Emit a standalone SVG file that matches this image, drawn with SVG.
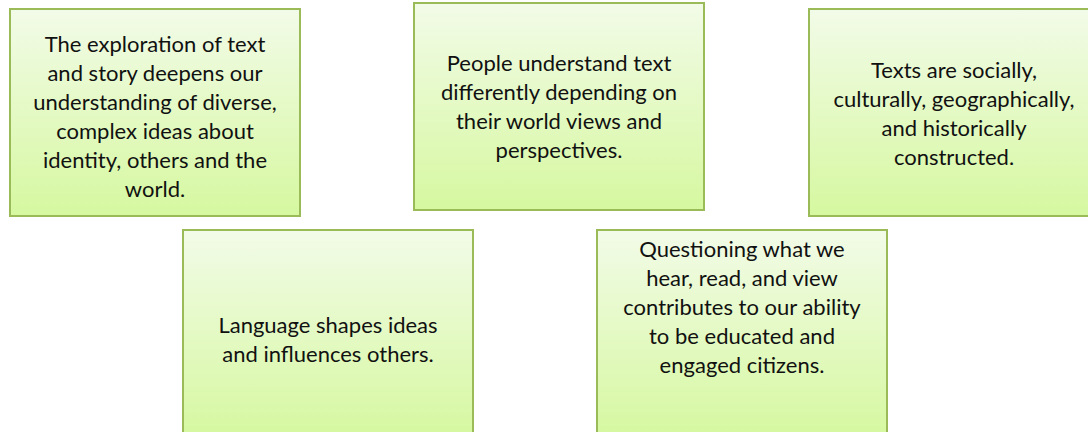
<svg xmlns="http://www.w3.org/2000/svg" width="1088" height="432" viewBox="0 0 1088 432">
<defs>
<linearGradient id="g" x1="0" y1="0" x2="0" y2="1">
<stop offset="0" stop-color="#F2FBE8"/>
<stop offset="1" stop-color="#D6F8A0"/>
</linearGradient>
<style>
.box{fill:url(#g);stroke:#9BBB59;stroke-width:2}
.t{font-family:Lato,"Liberation Sans",sans-serif;font-size:22px;fill:#111;text-anchor:middle}
</style>
</defs>
<rect width="1088" height="432" fill="#fff"/>
<g id="connectors"/>
<g id="n1">
<rect class="box" x="10" y="9" width="290" height="207"/>
<text class="t"><tspan x="155" y="52">The exploration of text</tspan><tspan x="155" y="81">and story deepens our</tspan><tspan x="155" y="110">understanding of diverse,</tspan><tspan x="155" y="139">complex ideas about</tspan><tspan x="155" y="168">identity, others and the</tspan><tspan x="155" y="197">world.</tspan></text>
</g>
<g id="n2">
<rect class="box" x="414" y="3" width="290" height="207"/>
<text class="t"><tspan x="559" y="71">People understand text</tspan><tspan x="559" y="100">differently depending on</tspan><tspan x="559" y="129">their world views and</tspan><tspan x="559" y="158">perspectives.</tspan></text>
</g>
<g id="n3">
<rect class="box" x="809" y="9" width="290" height="207"/>
<text class="t"><tspan x="954" y="78">Texts are socially,</tspan><tspan x="954" y="107">culturally, geographically,</tspan><tspan x="954" y="136">and historically</tspan><tspan x="954" y="165">constructed.</tspan></text>
</g>
<g id="n4">
<rect class="box" x="183" y="230" width="290" height="207"/>
<text class="t"><tspan x="328" y="333">Language shapes ideas</tspan><tspan x="328" y="362">and influences others.</tspan></text>
</g>
<g id="n5">
<rect class="box" x="597" y="230" width="290" height="207"/>
<text class="t"><tspan x="742" y="257">Questioning what we</tspan><tspan x="742" y="286">hear, read, and view</tspan><tspan x="742" y="315">contributes to our ability</tspan><tspan x="742" y="344">to be educated and</tspan><tspan x="742" y="373">engaged citizens.</tspan></text>
</g>
</svg>
